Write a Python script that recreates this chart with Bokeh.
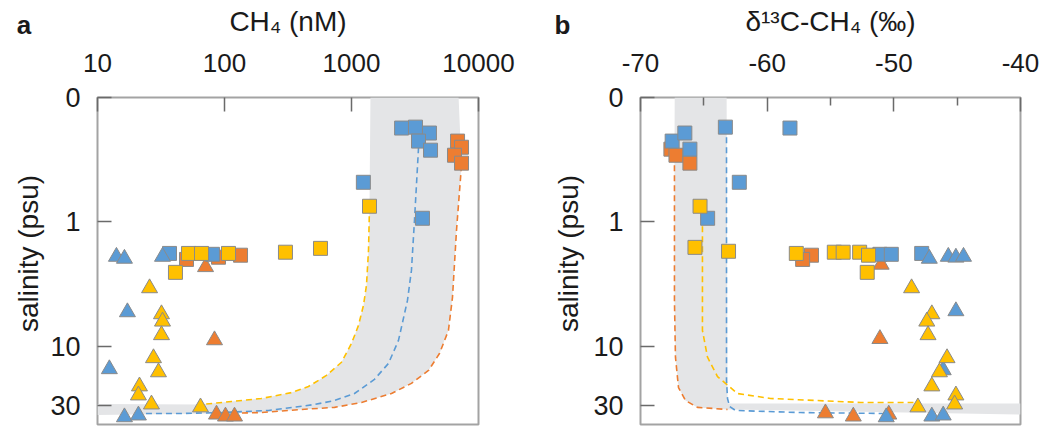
import math
from bokeh.plotting import figure
from bokeh.models import Range1d, FixedTicker, Label, LinearAxis
from bokeh.layouts import row
from bokeh.embed import file_html
from bokeh.resources import INLINE

FONT = "Liberation Sans"
BLUE = "#5B9BD5"
ORANGE = "#ED7D31"
YELLOW = "#FFC000"
BAND = "#e4e5e7"
EDGE = "#8a8a8a"
TXT = "#1a1a1a"

# ---------------- panel a : CH4 (nM) vs salinity ----------------
A_BLUE_SQ_X = [2480, 3190, 4110, 3370, 4190, 1240, 3620, 36.9, 80.4]
A_BLUE_SQ_Y = [0.176, 0.173, 0.193, 0.224, 0.265, 0.48, 0.934, 1.79, 1.82]
A_BLUE_TRI_X = [14.1, 16.3, 32.5, 17.2, 12.4, 16.3, 21.0]
A_BLUE_TRI_Y = [1.9, 1.97, 1.9, 5.3, 15.2, 37.0, 35.8]
A_ORANGE_SQ_X = [50.2, 89.7, 133.7, 6840, 7350, 6470, 7350]
A_ORANGE_SQ_Y = [2.0, 1.92, 1.85, 0.224, 0.251, 0.291, 0.337]
A_ORANGE_TRI_X = [70.9, 83.4, 86.5, 101.8, 119.9]
A_ORANGE_TRI_Y = [2.3, 8.9, 35.2, 36.5, 36.5]
A_YELLOW_SQ_X = [52.1, 65.9, 107.5, 41.1, 302, 570, 1386]
A_YELLOW_SQ_Y = [1.79, 1.79, 1.79, 2.54, 1.75, 1.63, 0.748]
A_YELLOW_TRI_X = [25.7, 31.9, 32.5, 31.9, 27.6, 30.2, 21.4, 21.0, 26.6, 64.7]
A_YELLOW_TRI_Y = [3.4, 5.5, 6.3, 8.1, 12.4, 16.1, 20.9, 24.7, 29.2, 30.8]

# mixing curves
A_YC_X = [1386, 1361, 1312, 1242, 1135, 1000, 834, 635, 458, 337, 195, 113.5, 65.9]
A_YC_Y = [0.748, 1.69, 3.23, 4.68, 6.78, 9.46, 13.4, 17.1, 21.0, 23.5, 26.2, 27.7, 29.3]
A_BC_X = [3373, 3133, 2965, 2758, 2344, 1954, 1516, 1056, 735, 511, 222, 94.6, 45.8, 21.4]
A_BC_Y = [0.251, 0.969, 2.45, 4.27, 8.95, 13.7, 18.4, 23.9, 27.2, 29.3, 32.7, 34.0, 34.6, 34.6]
A_OC_X = [7350, 6710, 6240, 5800, 4930, 4040, 2965, 2065, 1199, 735, 404, 195, 83.4]
A_OC_Y = [0.350, 1.17, 4.03, 7.43, 11.4, 15.6, 19.8, 23.9, 28.2, 30.9, 32.1, 34.0, 34.6]
A_BAND_TOP_X = [1410, 6970]
A_BAND_LEFT_Y = [29.0, 35.5]

# ---------------- panel b : d13C-CH4 vs salinity ----------------
B_BLUE_SQ_X = [-67.5, -66.5, -66.1, -63.3, -58.2, -62.2, -64.7, -51.1, -50.2, -47.8]
B_BLUE_SQ_Y = [0.224, 0.193, 0.26, 0.173, 0.176, 0.48, 0.934, 1.82, 1.82, 1.79]
B_BLUE_TRI_X = [-47.2, -45.7, -45.1, -44.5, -45.1, -46.1, -47.0, -46.1, -50.6]
B_BLUE_TRI_Y = [1.97, 1.9, 1.93, 1.9, 5.2, 15.5, 36.5, 35.8, 37.0]
B_ORANGE_SQ_X = [-67.6, -67.2, -66.1, -56.5, -57.2]
B_ORANGE_SQ_Y = [0.26, 0.291, 0.337, 1.85, 2.0]
B_ORANGE_TRI_X = [-51.0, -51.1, -55.4, -53.2, -50.4]
B_ORANGE_TRI_Y = [2.2, 8.7, 34.4, 36.5, 35.2]
B_YELLOW_SQ_X = [-65.3, -65.7, -63.05, -57.7, -54.7, -54.0, -52.7, -52.0, -52.1]
B_YELLOW_SQ_Y = [0.748, 1.6, 1.72, 1.79, 1.75, 1.75, 1.75, 1.85, 2.54]
B_YELLOW_TRI_X = [-48.6, -47.0, -47.4, -47.3, -45.8, -46.4, -47.0, -45.1, -45.2, -48.1]
B_YELLOW_TRI_Y = [3.4, 5.5, 6.3, 8.1, 12.4, 16.1, 20.9, 24.7, 29.2, 30.8]

B_YC_X = [-65.11, -65.11, -64.71, -63.92, -62.34, -59.74, -52.63, -48.45]
B_YC_Y = [0.748, 7.43, 12.2, 17.5, 23.9, 26.2, 28.2, 28.2]
B_BC_X = [-63.21, -63.21, -63.13, -62.97, -62.5, -57.37, -50.58]
B_BC_Y = [0.173, 18.8, 26.2, 30.4, 32.7, 34.0, 34.6]
B_OC_X = [-67.32, -67.32, -67.24, -67.0, -66.45, -65.5, -63.13]
B_OC_Y = [0.350, 4.27, 12.2, 21.4, 27.2, 30.9, 32.1]
B_BAND_TOP_X = [-67.3, -63.2]
B_BAND_RIGHT_Y = [35.3, 28.7]

SAL_TICKS = [0.1, 1, 10, 30]
SAL_LABELS = ["0", "1", "10", "30"]
SAL_RANGE = [42.4, 0.1]
CH4_RANGE = [10, 10000]
CH4_TICKS = [10, 100, 1000, 10000]
CH4_LABELS = ["10", "100", "1000", "10000"]
D13_RANGE = [-70, -40]
D13_TICKS = [-70, -60, -50, -40]
D13_LABELS = ["-70", "-60", "-50", "-40"]
D13_MINOR = [-65, -55, -45]


def style(p, xticks, xlabels, minor=None):
    p.outline_line_color = "#a3a3a3"
    p.outline_line_width = 2
    p.grid.visible = False
    for ax in (p.xaxis[0], p.yaxis[0]):
        ax.axis_line_color = None
        ax.major_tick_in = 14
        ax.major_tick_out = 0
        ax.minor_tick_in = 8
        ax.minor_tick_out = 0
        ax.major_tick_line_color = "#6a6a6a"
        ax.major_tick_line_width = 1.5
        ax.minor_tick_line_color = "#6a6a6a"
        ax.minor_tick_line_width = 1.5
        ax.major_label_text_font = FONT
        ax.major_label_text_color = TXT
        ax.axis_label_text_font = FONT
        ax.axis_label_text_font_style = "normal"
        ax.axis_label_text_font_size = "28px"
        ax.axis_label_text_color = TXT
    p.xaxis.ticker = FixedTicker(ticks=xticks, minor_ticks=minor or [])
    p.xaxis.major_label_overrides = {t: l for t, l in zip(xticks, xlabels)}
    p.xaxis.major_label_text_font_size = "26px"
    p.xaxis.major_label_standoff = 26
    p.xaxis.axis_label_standoff = 14
    p.yaxis.ticker = FixedTicker(ticks=SAL_TICKS, minor_ticks=[])
    p.yaxis.major_label_overrides = {t: l for t, l in zip(SAL_TICKS, SAL_LABELS)}
    p.yaxis.major_label_text_font_size = "27px"
    p.yaxis.major_label_standoff = 17


def markers(p, sets):
    for xs, ys, col, kind in sets:
        if kind == "sq":
            p.scatter(xs, ys, marker="square", size=14, fill_color=col,
                      line_color=EDGE, line_width=1)
        else:
            p.scatter(xs, ys, marker="triangle", size=16, fill_color=col,
                      line_color=EDGE, line_width=1)


def side_strip(width, letter, pad_left, ylabel_x):
    # narrow strip left of each panel: panel letter (label of a bare top axis) and the y title
    f = figure(width=width, height=427, x_range=Range1d(0, 1), y_range=Range1d(0, 1),
               x_axis_type=None, y_axis_type=None, output_backend="svg",
               toolbar_location=None, min_border=0, min_border_left=pad_left,
               outline_line_color=None, title=None)
    f.grid.visible = False
    ax = LinearAxis(ticker=FixedTicker(ticks=[]), axis_label=letter,
                    axis_line_color=None, major_tick_line_color=None,
                    minor_tick_line_color=None, major_label_text_font_size="0px",
                    axis_label_standoff=58, axis_label_text_font=FONT,
                    axis_label_text_font_size="26px", axis_label_text_font_style="bold",
                    axis_label_text_color=TXT)
    f.add_layout(ax, "above")
    f.add_layout(Label(x=ylabel_x, y=171, x_units="screen", y_units="screen",
                       text="salinity (psu)", angle=math.pi / 2,
                       text_font=FONT, text_font_size="28px", text_align="center",
                       text_baseline="middle", text_color=TXT))
    return f


la = side_strip(47, "a", 0, 28)

# ---- figure a
pa = figure(width=473, height=427, x_axis_type="log", y_axis_type="log",
            x_axis_location="above", title=None,
            x_range=Range1d(*CH4_RANGE), y_range=Range1d(*SAL_RANGE),
            output_backend="svg", toolbar_location=None,
            min_border_left=49, min_border_right=42, min_border_top=97,
            min_border_bottom=3, background_fill_color="white")
style(pa, CH4_TICKS, CH4_LABELS)
pa.xaxis.axis_label = "CH\u2084 (nM)"

band_ax = ([A_BAND_TOP_X[0]] + A_YC_X + [CH4_RANGE[0], CH4_RANGE[0]]
           + A_OC_X[::-1] + [A_BAND_TOP_X[1]])
band_ay = ([SAL_RANGE[1]] + A_YC_Y + [A_BAND_LEFT_Y[0], A_BAND_LEFT_Y[1]]
           + A_OC_Y[::-1] + [SAL_RANGE[1]])
pa.patch(band_ax, band_ay, fill_color=BAND, line_color=None)
for xs, ys, col in [(A_YC_X, A_YC_Y, YELLOW), (A_BC_X, A_BC_Y, BLUE), (A_OC_X, A_OC_Y, ORANGE)]:
    pa.line(xs, ys, line_color=col, line_width=1.6, line_dash="6 4")
markers(pa, [
    (A_ORANGE_SQ_X, A_ORANGE_SQ_Y, ORANGE, "sq"),
    (A_ORANGE_TRI_X, A_ORANGE_TRI_Y, ORANGE, "tri"),
    (A_BLUE_SQ_X, A_BLUE_SQ_Y, BLUE, "sq"),
    (A_BLUE_TRI_X, A_BLUE_TRI_Y, BLUE, "tri"),
    (A_YELLOW_SQ_X, A_YELLOW_SQ_Y, YELLOW, "sq"),
    (A_YELLOW_TRI_X, A_YELLOW_TRI_Y, YELLOW, "tri"),
])

lb = side_strip(67, "b", 17, 31)

# ---- figure b
pb = figure(width=456, height=427, y_axis_type="log",
            x_axis_location="above", title=None,
            x_range=Range1d(*D13_RANGE), y_range=Range1d(*SAL_RANGE),
            output_backend="svg", toolbar_location=None,
            min_border_left=53, min_border_right=23, min_border_top=97,
            min_border_bottom=3, background_fill_color="white")
style(pb, D13_TICKS, D13_LABELS, D13_MINOR)
pb.xaxis.axis_label = "\u03b4\u00b9\u00b3C-CH\u2084 (\u2030)"

band_bx = ([B_BAND_TOP_X[0]] + B_OC_X + [D13_RANGE[1], D13_RANGE[1]]
           + [B_BC_X[2], B_BAND_TOP_X[1]])
band_by = ([SAL_RANGE[1]] + B_OC_Y + [B_BAND_RIGHT_Y[0], B_BAND_RIGHT_Y[1]]
           + [B_BAND_RIGHT_Y[1], SAL_RANGE[1]])
pb.patch(band_bx, band_by, fill_color=BAND, line_color=None)
for xs, ys, col in [(B_YC_X, B_YC_Y, YELLOW), (B_BC_X, B_BC_Y, BLUE), (B_OC_X, B_OC_Y, ORANGE)]:
    pb.line(xs, ys, line_color=col, line_width=1.6, line_dash="6 4")
markers(pb, [
    (B_ORANGE_SQ_X, B_ORANGE_SQ_Y, ORANGE, "sq"),
    (B_ORANGE_TRI_X, B_ORANGE_TRI_Y, ORANGE, "tri"),
    (B_BLUE_SQ_X, B_BLUE_SQ_Y, BLUE, "sq"),
    (B_BLUE_TRI_X, B_BLUE_TRI_Y, BLUE, "tri"),
    (B_YELLOW_SQ_X, B_YELLOW_SQ_Y, YELLOW, "sq"),
    (B_YELLOW_TRI_X, B_YELLOW_TRI_Y, YELLOW, "tri"),
])

layout = row(la, pa, lb, pb)
open("out.html", "w").write(file_html(layout, INLINE))
